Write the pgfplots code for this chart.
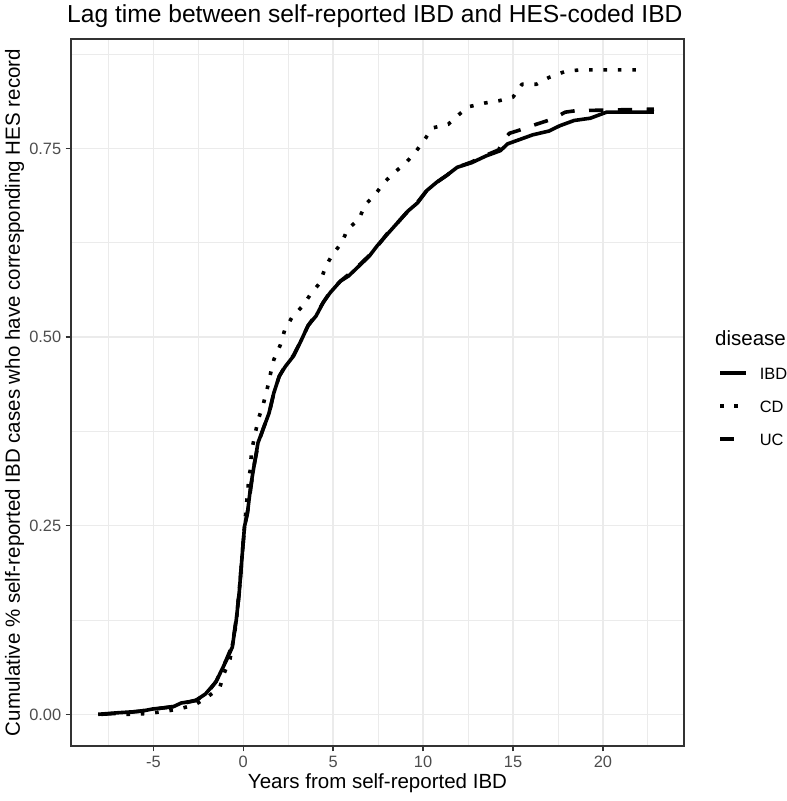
\documentclass[border=0pt]{standalone}
\usepackage{pgfplots}
\pgfplotsset{compat=1.18}
\usepackage{fontspec}
\setmainfont{Liberation Sans}
\definecolor{gray92}{HTML}{EBEBEB}
\definecolor{gray20}{HTML}{333333}
\definecolor{gray30}{HTML}{4D4D4D}
\begin{document}
\begin{tikzpicture}
\begin{axis}[
    scale only axis,
    width=613pt, height=707pt,
    xmin=-9.58, xmax=24.51,
    ymin=-0.042, ymax=0.895,
    clip=false,
    axis line style={gray20, line width=1.4pt},
    xtick={-5,0,5,10,15,20},
    xticklabels={-5,0,5,10,15,20},
    ytick={0,0.25,0.5,0.75},
    yticklabels={0.00,0.25,0.50,0.75},
    minor xtick={-7.5,-2.5,2.5,7.5,12.5,17.5,22.5},
    minor ytick={0.125,0.375,0.625,0.875},
    grid=both,
    major grid style={gray92, line width=1.5pt},
    minor grid style={gray92, line width=0.8pt},
    tick align=outside,
    xtick pos=left, ytick pos=left,
    major tick length=5.3pt, minor tick length=0pt,
    tick style={gray20, line width=1.4pt},
    xticklabel style={font=\fontsize{16.4}{19}\selectfont, text=gray30, anchor=base, inner sep=0pt, yshift=-16.1pt},
    yticklabel style={font=\fontsize{16.4}{19}\selectfont, text=gray30, anchor=east, inner sep=0pt, text height=11.7pt, text depth=0pt, xshift=-4.3pt},
    title={Lag time between self-reported IBD and HES-coded IBD},
    title style={at={(axis description cs:0,1.0155)}, anchor=base west, inner sep=0pt, xshift=-4pt, font=\fontsize{24.6}{29}\selectfont},
    xlabel={Years from self-reported IBD},
    xlabel style={at={(axis description cs:0.5,-0.0608)}, anchor=base, inner sep=0pt, font=\fontsize{20.5}{24}\selectfont},
    ylabel={Cumulative \% self-reported IBD cases who have corresponding HES record},
    ylabel style={at={(axis description cs:-0.0832,0.5)}, anchor=base, inner sep=0pt, font=\fontsize{20.5}{24}\selectfont},
    legend style={at={(axis description cs:1.0555,0.5359)}, anchor=north west, draw=none, fill=none, inner sep=0pt,
        font=\fontsize{16.4}{19}\selectfont, row sep=21.3pt, column sep=12pt,
        nodes={inner sep=0pt, text height=11.7pt, text depth=0pt}},
    legend cell align=left,
    legend image code/.code={\draw[#1] (0pt,0pt) -- (26pt,0pt);},
    every axis plot/.append style={black, line width=3.6pt, line cap=butt, line join=round},
]
% IBD
\addplot[solid, no marks] coordinates {
(-8.07,0.000) (-7.0,0.002) (-5.7,0.004) (-5.05,0.007) (-3.9,0.010) (-3.45,0.015)
(-2.66,0.018) (-2.1,0.027) (-1.52,0.043) (-0.95,0.071) (-0.61,0.089) (-0.39,0.125)
(-0.23,0.160) (-0.05,0.214) (0.07,0.249) (0.23,0.266) (0.41,0.302) (0.59,0.328)
(0.82,0.360) (1.09,0.377) (1.43,0.399) (1.7,0.426) (2.0,0.448) (2.34,0.461)
(2.8,0.475) (3.25,0.497) (3.6,0.515) (4.05,0.528) (4.45,0.546) (4.84,0.559)
(5.4,0.574) (5.86,0.581) (6.43,0.594) (7.0,0.607) (7.45,0.621) (8.0,0.636)
(8.6,0.652) (9.16,0.667) (9.7,0.678) (10.2,0.694) (10.75,0.705) (11.3,0.714)
(11.9,0.725) (12.7,0.731) (13.5,0.740) (14.3,0.747) (14.7,0.756) (15.4,0.762)
(16.1,0.768) (17.0,0.773) (17.6,0.780) (18.4,0.787) (19.3,0.790) (20.2,0.798)
(22.84,0.798)
};
\addlegendentry{IBD}
% CD
\addplot[no marks, dash pattern=on 3.6pt off 10.8pt] coordinates {
(-6.5,0.000) (-5.3,0.001) (-4.36,0.004) (-3.57,0.007) (-2.66,0.013) (-1.98,0.023)
(-1.3,0.036) (-1.07,0.054) (-0.73,0.074) (-0.4,0.120) (-0.2,0.170) (0.0,0.230)
(0.15,0.270) (0.3,0.310) (0.41,0.328) (0.45,0.348) (0.64,0.369) (0.82,0.390)
(1.09,0.409) (1.32,0.430) (1.5,0.450) (1.7,0.470) (2.07,0.490) (2.3,0.509)
(2.73,0.527) (3.3,0.541) (3.75,0.557) (4.27,0.572) (4.57,0.593) (4.95,0.609)
(5.48,0.625) (5.8,0.643) (6.43,0.656) (6.77,0.675) (7.34,0.689) (7.84,0.705)
(8.4,0.718) (9.05,0.731) (9.6,0.746) (10.07,0.761) (10.5,0.777) (11.4,0.782)
(11.9,0.793) (12.5,0.805) (13.4,0.810) (14.2,0.813) (15.0,0.818) (15.5,0.835)
(16.3,0.835) (17.0,0.844) (17.9,0.852) (18.7,0.854) (22.3,0.854)
};
\addlegendentry{CD}
% UC
\addplot[no marks, dash pattern=on 14.4pt off 14.4pt] coordinates {
(-7.9,0.000) (-6.5,0.002) (-5.2,0.006) (-4.0,0.010) (-3.4,0.014) (-2.6,0.019)
(-2.0,0.028) (-1.5,0.044) (-0.95,0.072) (-0.6,0.092) (-0.4,0.125) (-0.22,0.162)
(-0.05,0.215) (0.08,0.250) (0.25,0.270) (0.42,0.300) (0.6,0.330) (0.85,0.360)
(1.1,0.378) (1.45,0.400) (1.72,0.428) (2.0,0.448) (2.34,0.462) (2.8,0.476)
(3.25,0.497) (3.6,0.515) (4.05,0.530) (4.45,0.546) (4.84,0.560) (5.4,0.574)
(5.86,0.583) (6.43,0.595) (7.0,0.608) (7.45,0.620) (8.0,0.637) (8.6,0.652)
(9.16,0.667) (9.7,0.679) (10.2,0.694) (10.75,0.705) (11.3,0.714) (11.9,0.725)
(12.7,0.732) (13.5,0.741) (14.2,0.748) (14.5,0.762) (14.8,0.770) (15.6,0.776)
(16.3,0.782) (17.2,0.789) (17.9,0.798) (18.5,0.800) (22.84,0.802)
};
\addlegendentry{UC}
\node[anchor=base west, inner sep=0pt, font=\fontsize{20.5}{24}\selectfont] at (axis description cs:1.0506,0.5658) {disease};
\coordinate (SW) at (axis description cs:0,0);
\coordinate (NE) at (axis description cs:1,1);
\end{axis}
\pgfresetboundingbox
\path ([shift={(-71pt,-55pt)}]SW) rectangle ([shift={(102pt,39pt)}]NE);
\end{tikzpicture}
\end{document}
